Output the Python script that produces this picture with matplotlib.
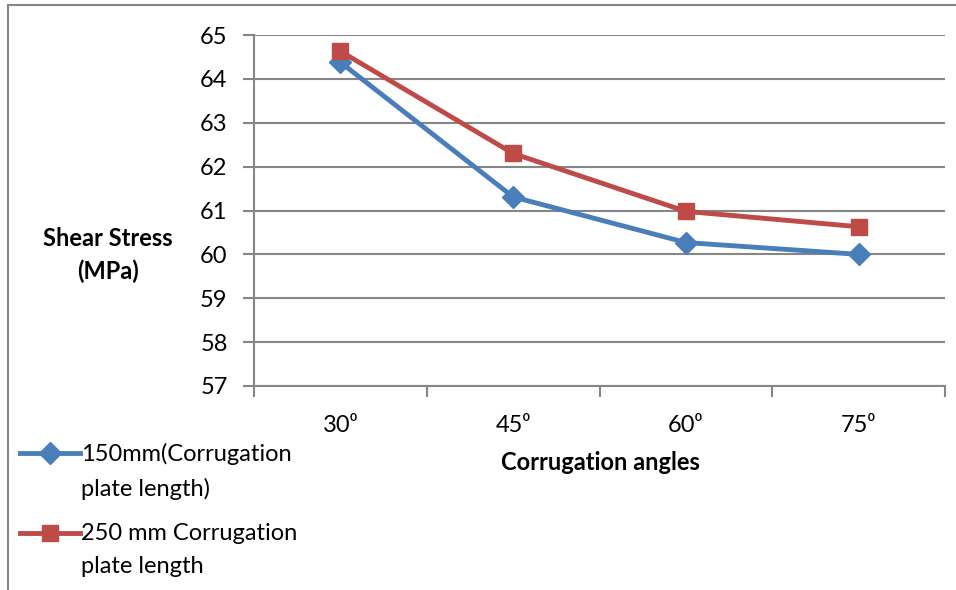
import matplotlib
matplotlib.use('Agg')
import matplotlib.pyplot as plt
from matplotlib.lines import Line2D
import numpy as np

angles = ['30⁰', '45⁰', '60⁰', '75⁰']
stress_150 = [64.38, 61.31, 60.27, 60.0]
stress_250 = [64.63, 62.30, 60.98, 60.63]
labels = ['150mm(Corrugation\nplate length)', '250 mm Corrugation\nplate length']

plt.rcParams['font.family'] = ['Lato', 'DejaVu Sans']
plt.rcParams['font.size'] = 17

W, H = 956, 590
fig = plt.figure(figsize=(W / 100, H / 100), dpi=100)
ax = fig.add_axes([254 / W, 1 - 386 / H, (945 - 254) / W, (386 - 35) / H])

grey = '#868686'
colors = ['#4A7EBB', '#BE4B48']
markers = ['D', 's']
msizes = [11, 11.5]
x = np.arange(len(angles))
for i, ys in enumerate([stress_150, stress_250]):
    ax.plot(x, ys, color=colors[i], lw=3.5, marker=markers[i], ms=msizes[i], zorder=3 + i)

ax.set_xlim(-0.5, len(angles) - 0.5)
ax.set_ylim(57, 65)
ax.set_yticks(np.arange(57, 66, 1))
ax.set_xticks(x)
ax.set_xticklabels(angles)
ax.set_xticks(np.arange(-0.5, len(angles), 1), minor=True)
ax.tick_params(axis='x', which='major', length=0, pad=21)
ax.tick_params(axis='x', which='minor', length=8, width=1.5, color=grey, direction='out')
ax.tick_params(axis='y', length=8, width=1.5, color=grey, direction='out', pad=11)
ax.grid(axis='y', color=grey, lw=1.5)
ax.set_axisbelow(True)
for s in ['top', 'right']:
    ax.spines[s].set_visible(False)
for s in ['left', 'bottom']:
    ax.spines[s].set_color(grey)
    ax.spines[s].set_linewidth(1.5)

fig.text(108 / W, 1 - 255 / H, 'Shear Stress\n(MPa)', ha='center', va='center',
         fontweight='bold', linespacing=1.45)
fig.text(600 / W, 1 - 462 / H, 'Corrugation angles', ha='center', va='center',
         fontweight='bold')

# legend drawn by hand so the key sits on the first text line
legend_y = [453, 533]
for i in range(2):
    yy = 1 - legend_y[i] / H
    fig.add_artist(Line2D([20 / W, 80 / W], [yy, yy], color=colors[i], lw=3.5))
    fig.add_artist(Line2D([50 / W], [yy], color=colors[i], marker=markers[i], ms=msizes[i]))
    fig.text(81 / W, yy + 10 / H, labels[i], ha='left', va='top', linespacing=1.7)

# outer chart border (left and top visible)
fig.add_artist(Line2D([8 / W, 8 / W], [0, 1 - 5 / H], color=grey, lw=1.5))
fig.add_artist(Line2D([8 / W, 1], [1 - 5 / H, 1 - 5 / H], color=grey, lw=1.5))

fig.savefig('out.png', dpi=100)
